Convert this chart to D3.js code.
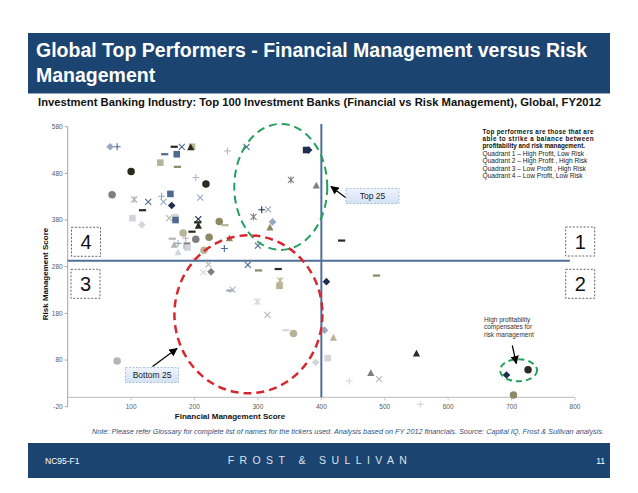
<!DOCTYPE html>
<html><head><meta charset="utf-8">
<script src="https://cdnjs.cloudflare.com/ajax/libs/d3/7.8.5/d3.min.js"></script>
<style>body{margin:0;background:#fff}svg{display:block}text{font-family:"Liberation Sans",Arial,sans-serif}</style>
</head><body><svg id="c" width="638" height="493"></svg>
<script>
// ---- data ----
const fmScore = [67,78,168,180,196,194,252,282,376,380,153,172,146,173,100,202,218,352,392,70,105,127,118,148,151,162,164,209,102,117,160,170,170,206,205,206,239,248,293,306,316,323,319,182,196,186,202,223,255,165,168,174,188,189,174,215,247,300,202,222,214,226,284,301,332,335,334,256,260,299,315,344,356,405,78,391,410,408,487,419,550,478,491,444,556,692,726,703,432];
const rmScore = [537,537,537,537,537,536,528,537,530,530,521,521,503,494,484,471,457,466,454,434,424,419,401,431,419,436,411,428,384,370,384,386,380,382,375,368,377,369,387,402,403,376,364,352,355,341,339,343,341,340,327,330,325,321,311,315,319,325,297,285,268,269,284,272,275,250,239,229,231,205,177,144,137,144,78,75,84,248,261,128,94,52,39,35,-15,48,59,5,336];
const markerKind = ["diamond","plus","dash","x","square","triangle","plus","x","square","diamond","dash","square","square","dash","circle","plus","circle","asterisk","triangle","circle","asterisk","x","dash","plus","x","square","diamond","x","square","diamond","x","square","square","x","dash","triangle","circle","dash","asterisk","plus","x","diamond","triangle","circle","dash","plus","circle","circle","triangle","dash","triangle","plus","square","square","triangle","circle","plus","x","dash","x","x","diamond","x","dash","dash","asterisk","square","dash","x","asterisk","x","dash","circle","diamond","circle","diamond","square","diamond","dash","triangle","triangle","triangle","x","plus","plus","diamond","circle","circle","dash"];
const shadeGroup = [2,1,3,1,5,3,7,1,0,0,1,1,5,4,3,7,3,6,6,6,7,1,3,2,2,1,0,2,8,8,5,8,1,0,3,3,4,5,6,0,2,2,4,5,3,7,6,4,4,7,7,2,6,8,8,5,1,1,8,7,8,6,1,4,3,5,5,2,7,8,7,8,5,2,7,8,8,0,4,5,3,6,7,8,8,0,3,4,3];
const xTicks = [100,200,300,400,500,600,700,800];
const yTicks = [-20,80,180,280,380,480,580];
const quadrantSplit = {fm:400, rm:293};
const titleLines = ["Global Top Performers - Financial Management versus Risk","Management"];
const subtitle = "Investment Banking Industry: Top 100 Investment Banks (Financial vs Risk Management), Global, FY2012";
const infoBold = ["Top performers are those that are","able to strike a balance between","profitability and risk management."];
const infoQuad = ["Quadrant 1 \u2013  High Profit, Low Risk","Quadrant 2 \u2013 High Profit , High Risk","Quadrant 3 \u2013 Low Profit , High Risk","Quadrant 4 \u2013 Low Profit, Low Risk"];
const noteText = "Note: Please refer Glossary for complete list of names for the tickers used. Analysis based on FY 2012 financials.  Source: Capital IQ, Frost & Sullivan analysis.";

// ---- styles ----
const palette = ["#1F2E4E","#4D6A91","#97A7C2","#2A2A1E","#8C8963","#B8B497","#7F7F7F","#B5B5B5","#D4D5DC"];

const svg = d3.select("#c");
svg.append("rect").attr("width",638).attr("height",493).attr("fill","#fff");

const x = d3.scaleLinear().domain([0,800]).range([67.7,575]);
const y = d3.scaleLinear().domain([-20,580]).range([406.7,126.7]);

// title banner
svg.append("rect").attr("x",28).attr("y",33).attr("width",582).attr("height",60).attr("fill","#1B4470");
svg.append("line").attr("x1",28).attr("x2",610).attr("y1",93.5).attr("y2",93.5).attr("stroke","#8FA3BD").attr("stroke-width",1);
svg.selectAll("text.title").data(titleLines).join("text").attr("class","title")
  .attr("x",36).attr("y",(d,i)=>57+i*25).attr("fill","#fff").attr("font-weight","bold").attr("font-size",19.5)
  .text(d=>d);
svg.append("text").attr("x",38).attr("y",106).attr("font-weight","bold").attr("font-size",10.5)
  .attr("textLength",563).attr("lengthAdjust","spacingAndGlyphs").attr("fill","#111").text(subtitle);

// axes
const g = svg.append("g");
g.append("line").attr("x1",x(0)).attr("x2",x(0)).attr("y1",y(580)).attr("y2",y(-20)).attr("stroke","#A6A6A6");
g.append("line").attr("x1",x(0)).attr("x2",x(800)).attr("y1",y(0)).attr("y2",y(0)).attr("stroke","#C8C8C8").attr("stroke-width",1.2);
g.selectAll("line.yt").data(yTicks).join("line").attr("class","yt")
  .attr("x1",x(0)-3).attr("x2",x(0)).attr("y1",d=>y(d)).attr("y2",d=>y(d)).attr("stroke","#A6A6A6");
g.selectAll("text.yl").data(yTicks).join("text").attr("class","yl")
  .attr("x",x(0)-5).attr("y",d=>y(d)+2.3).attr("text-anchor","end").attr("font-size",6.5).attr("fill","#595959").text(d=>d);
g.selectAll("line.xt").data(xTicks).join("line").attr("class","xt")
  .attr("x1",d=>x(d)).attr("x2",d=>x(d)).attr("y1",y(0)).attr("y2",y(0)+3).attr("stroke","#C8C8C8");
g.selectAll("text.xl").data(xTicks).join("text").attr("class","xl")
  .attr("x",d=>x(d)).attr("y",408.5).attr("text-anchor","middle").attr("font-size",6.5).attr("fill","#595959").text(d=>d);
svg.append("text").attr("transform","translate(48,274) rotate(-90)").attr("text-anchor","middle")
  .attr("font-weight","bold").attr("font-size",8).attr("fill","#111").text("Risk Management Score");
svg.append("text").attr("x",230).attr("y",419).attr("text-anchor","middle")
  .attr("font-weight","bold").attr("font-size",8).attr("fill","#111").text("Financial Management Score");

// quadrant lines
g.append("line").attr("x1",x(0)).attr("x2",x(792)).attr("y1",y(quadrantSplit.rm)).attr("y2",y(quadrantSplit.rm)).attr("stroke","#4E6F98").attr("stroke-width",2);
g.append("line").attr("x1",x(quadrantSplit.fm)).attr("x2",x(quadrantSplit.fm)).attr("y1",y(586)).attr("y2",y(0)).attr("stroke","#4E6F98").attr("stroke-width",2);

// markers
function shape(kind){
  switch(kind){
    case "diamond": return "M0,-3.8L3.8,0L0,3.8L-3.8,0Z";
    case "square": return "M-3.3,-3.3H3.3V3.3H-3.3Z";
    case "triangle": return "M0,-3.8L3.6,3H-3.6Z";
    case "circle": return d3.symbol(d3.symbolCircle, 44)();
    case "dash": return "M-3.6,-1.1H3.6V1.1H-3.6Z";
    default: return null;
  }
}
const pts = fmScore.map((f,i)=>({f, r:rmScore[i], k:markerKind[i], c:palette[shadeGroup[i]]}));
const mg = svg.append("g");
pts.forEach(p=>{
  const t = mg.append("g").attr("transform",`translate(${x(p.f)},${y(p.r)})`);
  if(p.k==="x"||p.k==="plus"||p.k==="asterisk"){
    let d = "";
    if(p.k!=="plus") d += "M-3,-3L3,3M-3,3L3,-3";
    if(p.k==="plus") d += "M-3.4,0H3.4M0,-3.4V3.4";
    if(p.k==="asterisk") d += "M0,-3.6V3.6";
    t.append("path").attr("d",d).attr("stroke",p.c).attr("stroke-width",1.1).attr("fill","none");
  } else {
    t.append("path").attr("d",shape(p.k)).attr("fill",p.c);
  }
});

// annotation ellipses (data-space centres)
function ell(cx,cy,rx,ry,col,w,dash){
  svg.append("ellipse").attr("cx",x(cx)).attr("cy",y(cy)).attr("rx",rx).attr("ry",ry)
    .attr("fill","none").attr("stroke",col).attr("stroke-width",w).attr("stroke-dasharray",dash);
}
ell(336,451,46.5,63,"#23A05C",2,"8,5");
ell(285,178,74,79,"#D8262E",2.5,"8,5");
ell(711,58,18.5,11,"#23A05C",2,"6,4");

// arrows
const defs = svg.append("defs");
defs.append("marker").attr("id","ah").attr("viewBox","0 0 10 10").attr("refX",9).attr("refY",5)
  .attr("markerWidth",7).attr("markerHeight",7).attr("orient","auto")
  .append("path").attr("d","M0,0L10,5L0,10Z").attr("fill","#000");
const grad = defs.append("linearGradient").attr("id","bx").attr("x1",0).attr("y1",0).attr("x2",0).attr("y2",1);
grad.append("stop").attr("offset",0).attr("stop-color","#EEF4FC");
grad.append("stop").attr("offset",1).attr("stop-color","#D3E2F4");
function arrow(x1,y1,x2,y2){
  svg.append("line").attr("x1",x1).attr("y1",y1).attr("x2",x2).attr("y2",y2)
    .attr("stroke","#000").attr("stroke-width",1.2).attr("marker-end","url(#ah)");
}
function callout(x0,y0,w,h,label){
  svg.append("rect").attr("x",x0).attr("y",y0).attr("width",w).attr("height",h).attr("fill","url(#bx)")
    .attr("stroke","#9DB5D6").attr("stroke-width",0.8).attr("stroke-dasharray","2,1.5");
  svg.append("text").attr("x",x0+w/2).attr("y",y0+h/2+3).attr("text-anchor","middle").attr("font-size",8.5).attr("fill","#222").text(label);
}
callout(346,188.5,53,15,"Top 25");
arrow(345.5,197.5,331,186.5);
callout(125.5,367.5,53,15,"Bottom 25");
arrow(152.5,366.5,177,348.5);
arrow(512.3,345.5,516.3,363.5);

// high-profit note
["High profitability","compensates for","risk management"].forEach((s,i)=>{
  svg.append("text").attr("x",484).attr("y",321.5+i*7.6).attr("font-size",6.5).attr("fill","#333").text(s);
});

// quadrant number boxes
[[1,565.7,227],[2,565.7,269.3],[3,71,269.3],[4,71.5,227.3]].forEach(([n,bx,by])=>{
  svg.append("rect").attr("x",bx).attr("y",by).attr("width",29).attr("height",29).attr("fill","#fff")
    .attr("stroke","#555").attr("stroke-width",0.9).attr("stroke-dasharray","2,1.6");
  svg.append("text").attr("x",bx+14.5).attr("y",by+21.5).attr("text-anchor","middle").attr("font-size",20).attr("fill","#111").text(n);
});

// info block
infoBold.forEach((s,i)=>{
  const t = svg.append("text").attr("x",482.5).attr("y",133.5+i*7.4).attr("font-size",6.3).attr("font-weight","bold").attr("fill","#111").text(s);
  if(i<2) t.attr("textLength",111).attr("lengthAdjust","spacing");
});
infoQuad.forEach((s,i)=>{
  svg.append("text").attr("x",482.5).attr("y",155.8+i*7.4).attr("font-size",6.6).attr("fill","#222").text(s);
});

// note
svg.append("text").attr("x",604).attr("y",433.5).attr("text-anchor","end").attr("font-size",7).attr("font-style","italic")
  .attr("fill","#34507A").attr("textLength",512).attr("lengthAdjust","spacingAndGlyphs").text(noteText);

// footer
svg.append("rect").attr("x",28).attr("y",443).attr("width",582).attr("height",35).attr("fill","#1B4470");
svg.append("text").attr("x",45).attr("y",463.5).attr("font-size",8.5).attr("fill","#fff").text("NC95-F1");
svg.append("text").attr("x",605).attr("y",464).attr("text-anchor","end").attr("font-size",8.5).attr("fill","#fff").text("11");
svg.append("text").attr("x",320).attr("y",464).attr("text-anchor","middle").attr("font-size",10.5)
  .attr("font-family","'Liberation Serif',serif").attr("letter-spacing",5.4).attr("fill","#DCE3EC")
  .text("FROST & SULLIVAN");
</script></body></html>
